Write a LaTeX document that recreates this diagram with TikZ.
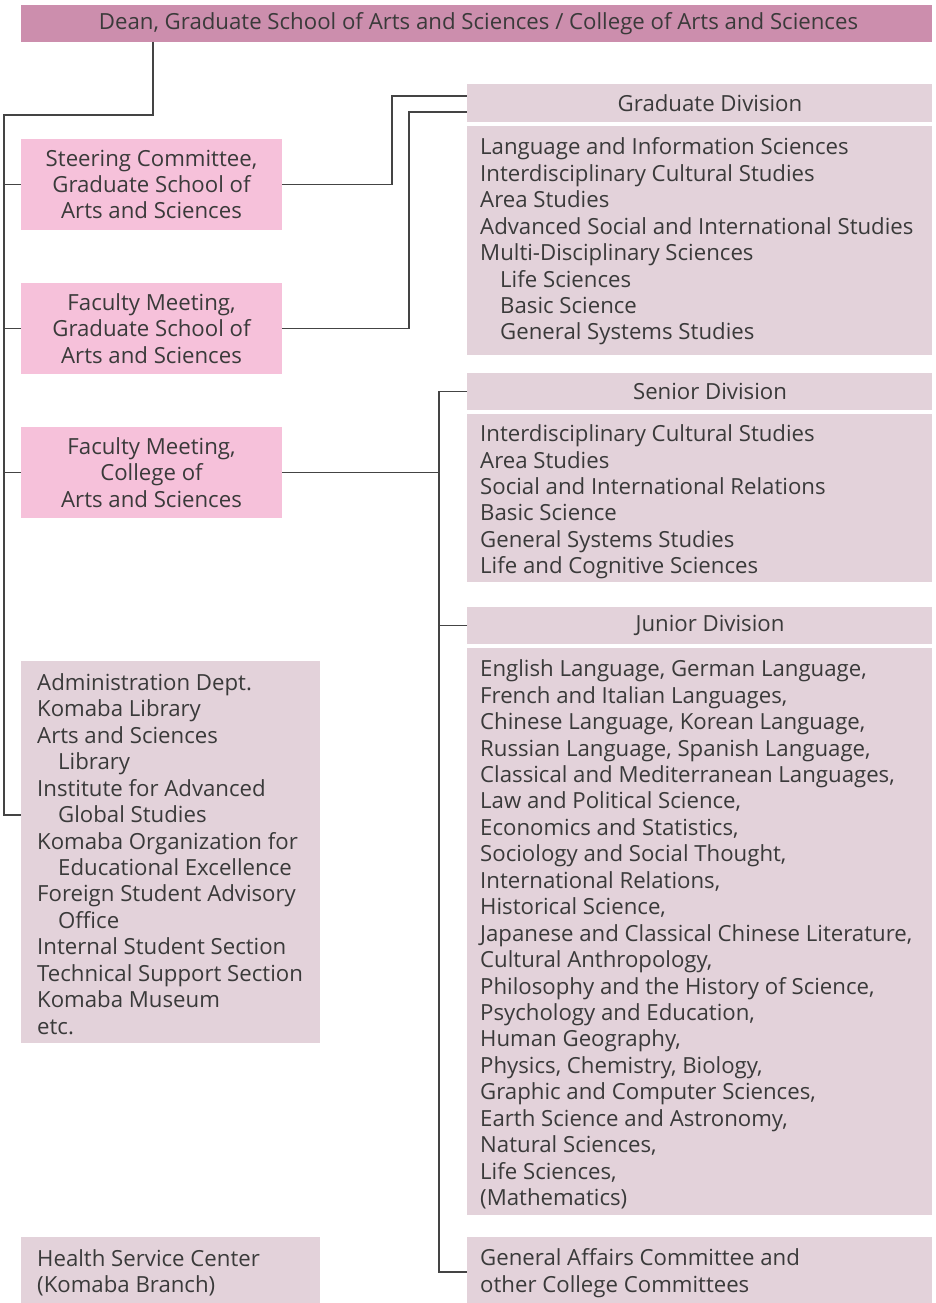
\documentclass[tikz,border=0pt]{standalone}
\usepackage{fontspec}
\setmainfont{Open Sans}
\definecolor{deanc}{HTML}{CC8EAD}
\definecolor{pinkc}{HTML}{F6C1DA}
\definecolor{mauvec}{HTML}{E3D2DA}
\definecolor{txtc}{HTML}{3A3A3A}
\definecolor{linec}{HTML}{444444}
\begin{document}
\begin{tikzpicture}[x=1pt,y=-1pt,
  font=\fontsize{22.2}{26.45}\selectfont, text=txtc,
  bx/.style n args={3}{fill=#1, minimum width=#2pt, minimum height=#3pt, anchor=north west, inner sep=0pt, outer sep=0pt, align=center},
  txt/.style={anchor=west, align=left, inner sep=0pt},
  conn/.style={draw=linec, line width=1.2pt}]
\useasboundingbox (0,0) rectangle (936,1303);
% boxes
\node[bx={deanc}{911}{37}] (dean) at (21,5) {\raisebox{-2pt}{\hspace*{4pt}Dean, Graduate School of Arts and Sciences / College of Arts and Sciences}};
\node[bx={pinkc}{261}{91}] (steer) at (21,139) {Steering Committee,\\Graduate School of\\Arts and Sciences};
\node[bx={pinkc}{261}{91}] (fmgs) at (21,283) {Faculty Meeting,\\Graduate School of\\Arts and Sciences};
\node[bx={pinkc}{261}{91}] (fmc) at (21,427) {Faculty Meeting,\\College of\\Arts and Sciences};
\node[bx={mauvec}{299}{382}] (admin) at (21,661) {};
\node[bx={mauvec}{299}{66}] (health) at (21,1237) {};
\node[bx={mauvec}{465}{38}] (gradh) at (467,84) {\raisebox{-2pt}{\hspace*{21pt}Graduate Division}};
\node[bx={mauvec}{465}{229}] (gradc) at (467,126) {};
\node[bx={mauvec}{465}{37}] (senh) at (467,373) {\raisebox{-2pt}{\hspace*{21pt}Senior Division}};
\node[bx={mauvec}{465}{168}] (senc) at (467,414) {};
\node[bx={mauvec}{465}{37}] (junh) at (467,607) {\raisebox{-2pt}{\hspace*{21pt}Junior Division}};
\node[bx={mauvec}{465}{567}] (junc) at (467,648) {};
\node[bx={mauvec}{465}{66}] (gen) at (467,1237) {};
% texts
\node[txt] (gradt) at ([xshift=13pt,yshift=-1pt]gradc.west) {Language and Information Sciences\\Interdisciplinary Cultural Studies\\Area Studies\\Advanced Social and International Studies\\Multi-Disciplinary Sciences\\\hspace*{20pt}Life Sciences\\\hspace*{20pt}Basic Science\\\hspace*{20pt}General Systems Studies};
\node[txt] (sent) at ([xshift=13pt,yshift=-4pt]senc.west) {Interdisciplinary Cultural Studies\\Area Studies\\Social and International Relations\\Basic Science\\General Systems Studies\\Life and Cognitive Sciences};
\node[txt] (junt) at ([xshift=13pt,yshift=-3pt]junc.west) {English Language, German Language,\\French and Italian Languages,\\Chinese Language, Korean Language,\\Russian Language, Spanish Language,\\Classical and Mediterranean Languages,\\Law and Political Science,\\Economics and Statistics,\\Sociology and Social Thought,\\International Relations,\\Historical Science,\\Japanese and Classical Chinese Literature,\\Cultural Anthropology,\\Philosophy and the History of Science,\\Psychology and Education,\\Human Geography,\\Physics, Chemistry, Biology,\\Graphic and Computer Sciences,\\Earth Science and Astronomy,\\Natural Sciences,\\Life Sciences,\\(Mathematics)};
\node[txt] (gent) at ([xshift=13pt,yshift=-3pt]gen.west) {General Affairs Committee and\\other College Committees};
\node[txt] (admint) at ([xshift=16pt,yshift=-2pt]admin.west) {Administration Dept.\\Komaba Library\\Arts and Sciences\\\hspace*{21pt}Library\\Institute for Advanced\\\hspace*{21pt}Global Studies\\Komaba Organization for\\\hspace*{21pt}Educational Excellence\\Foreign Student Advisory\\\hspace*{21pt}Office\\Internal Student Section\\Technical Support Section\\Komaba Museum\\etc.};
\node[txt] (healtht) at ([xshift=16pt,yshift=-3pt]health.west) {Health Service Center\\(Komaba Branch)};
% connectors
\coordinate (bustop) at (4,115);
\coordinate (vb) at (439,0);
\draw[conn] ([xshift=132pt]dean.south west) |- (bustop) |- (admin.west |- 0,815);
\draw[conn] (steer.west -| bustop) -- (steer.west);
\draw[conn] (fmgs.west -| bustop) -- (fmgs.west);
\draw[conn] (fmc.west -| bustop) -- (fmc.west);
\draw[conn] (steer.east) -- ++(110,0) |- ([yshift=7pt]gradh.west);
\draw[conn] (fmgs.east) -- ++(127,0) |- ([yshift=-9pt]gradh.west);
\draw[conn] (fmc.east) -- (fmc.east -| vb);
\draw[conn] (senh.west) -| (vb |- 0,1272) -- (gen.west |- 0,1272);
\draw[conn] (junh.west) -- (junh.west -| vb);
\end{tikzpicture}
\end{document}
